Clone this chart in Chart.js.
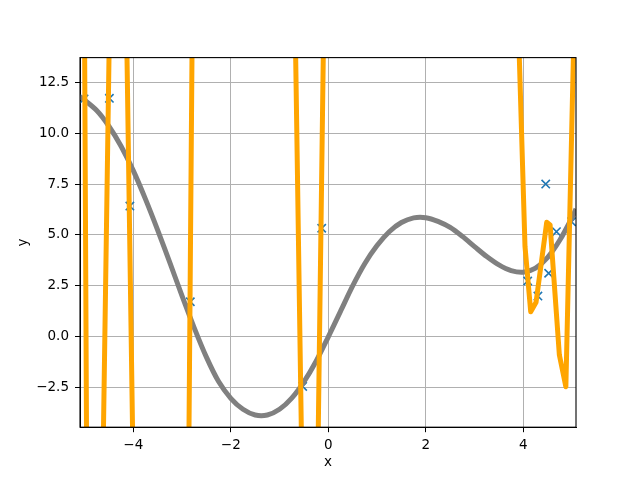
<!DOCTYPE html>
<html>
<head>
<meta charset="utf-8">
<script src="https://cdn.jsdelivr.net/npm/chart.js@4/dist/chart.umd.min.js"></script>
<style>
html,body{margin:0;padding:0;background:#fff;}
#wrap{width:640px;height:480px;}
</style>
</head>
<body>
<div id="wrap"><canvas id="c" width="640" height="480"></canvas></div>
<script>
// ---- data ----
const xTickValues = [-4, -2, 0, 2, 4];
const yTickValues = [-2.5, 0, 2.5, 5, 7.5, 10, 12.5];
const xLimits = [-5.093, 5.081];
const yLimits = [-4.44, 13.71];

const scatterX = [-5.01, -4.49, -4.07, -2.83, -0.525, -0.135, 4.09, 4.30, 4.46, 4.52, 4.68, 4.99];
const scatterY = [11.68, 11.71, 6.42, 1.72, -2.44, 5.33, 2.74, 2.0, 7.5, 3.12, 5.16, 5.65];

const grayX = [-5.093, -4.75, -4.5, -4.25, -4.0, -3.75, -3.5, -3.25, -3.0, -2.75, -2.5, -2.25, -2.0, -1.75, -1.5, -1.25, -1.0, -0.75, -0.5, -0.25, 0, 0.25, 0.5, 0.75, 1.0, 1.25, 1.5, 1.75, 2.0, 2.25, 2.5, 2.75, 3.0, 3.25, 3.5, 3.75, 4.0, 4.25, 4.5, 4.75, 5.0, 5.081];
const grayY = [11.8, 11.11, 10.34, 9.36, 8.16, 6.76, 5.24, 3.64, 2.01, 0.44, -1.0, -2.2, -3.02, -3.56, -3.84, -3.84, -3.56, -3.01, -2.21, -1.2, 0.0, 1.25, 2.5, 3.6, 4.48, 5.16, 5.61, 5.84, 5.85, 5.67, 5.37, 4.93, 4.43, 3.94, 3.53, 3.25, 3.17, 3.37, 3.9, 4.75, 5.85, 6.28];

const orangeX = [-5.010, -4.928, -4.708, -4.459, -4.168, -3.919, -2.909, -2.775, -0.709, -0.455, -0.292, -0.068, 3.839, 4.035, 4.152, 4.262, 4.48, 4.55, 4.74, 4.873, 5.087];
const orangeY = [20, -20, -20, 20, 20, -20, -20, 20, 20, -20, -20, 20, 20, 4.43, 1.23, 1.7, 5.62, 5.49, -0.9, -2.45, 20];

const xTitle = 'x';
const yTitle = 'y';

// ---- build ----
const toPts = (xs, ys) => xs.map((x, i) => ({x: x, y: ys[i]}));
const minus = v => String(v).replace('-', '\u2212');
const FONT = {family: 'DejaVu Sans', size: 13.5};

const spines = {
  id: 'spines',
  afterDatasetsDraw(chart) {
    const a = chart.chartArea, ctx = chart.ctx;
    ctx.save();
    ctx.strokeStyle = '#000';
    ctx.lineWidth = 1.1;
    ctx.strokeRect(a.left, a.top, a.right - a.left, a.bottom - a.top);
    ctx.restore();
  }
};

new Chart(document.getElementById('c'), {
  type: 'scatter',
  data: {
    datasets: [
      {
        data: toPts(orangeX, orangeY),
        showLine: true, borderColor: '#FFA500', borderWidth: 5,
        pointRadius: 0, tension: 0, borderJoinStyle: 'round', borderCapStyle: 'butt',
        clip: 0, order: 1
      },
      {
        data: toPts(grayX, grayY),
        showLine: true, borderColor: '#808080', borderWidth: 5,
        pointRadius: 0, tension: 0.3, borderJoinStyle: 'round',
        clip: 0, order: 2
      },
      {
        data: toPts(scatterX, scatterY),
        showLine: false, pointStyle: 'crossRot', pointRadius: 5.9,
        borderColor: '#1f77b4', backgroundColor: '#1f77b4', pointBorderWidth: 1.6,
        clip: 0, order: 3
      }
    ]
  },
  options: {
    responsive: false,
    animation: false,
    devicePixelRatio: 1,
    layout: {padding: {left: 0, right: 64, top: 57.6, bottom: 0}},
    plugins: {legend: {display: false}, tooltip: {enabled: false}, title: {display: false}},
    scales: {
      x: {
        type: 'linear', position: 'bottom',
        min: xLimits[0], max: xLimits[1],
        afterBuildTicks: s => { s.ticks = xTickValues.map(v => ({value: v})); },
        afterFit: s => { s.height = 52.8; },
        ticks: {color: '#000', font: FONT, padding: 5, maxRotation: 0,
                callback: v => minus(v)},
        grid: {color: '#b0b0b0', lineWidth: 1, tickColor: '#000', tickLength: 5, tickWidth: 1},
        border: {color: '#000', width: 1},
        title: {display: true, text: xTitle, color: '#000', font: FONT, padding: {top: 0, bottom: 9}}
      },
      y: {
        type: 'linear', position: 'left',
        min: yLimits[0], max: yLimits[1],
        afterBuildTicks: s => { s.ticks = yTickValues.map(v => ({value: v})); },
        afterFit: s => { s.width = 80; },
        ticks: {color: '#000', font: FONT, padding: 6,
                callback: v => minus(Number(v).toFixed(1))},
        grid: {color: '#b0b0b0', lineWidth: 1, tickColor: '#000', tickLength: 5, tickWidth: 1},
        border: {color: '#000', width: 1},
        title: {display: true, text: yTitle, color: '#000', font: FONT, padding: {top: 15, bottom: 0}}
      }
    }
  },
  plugins: [spines]
});
</script>
</body>
</html>
